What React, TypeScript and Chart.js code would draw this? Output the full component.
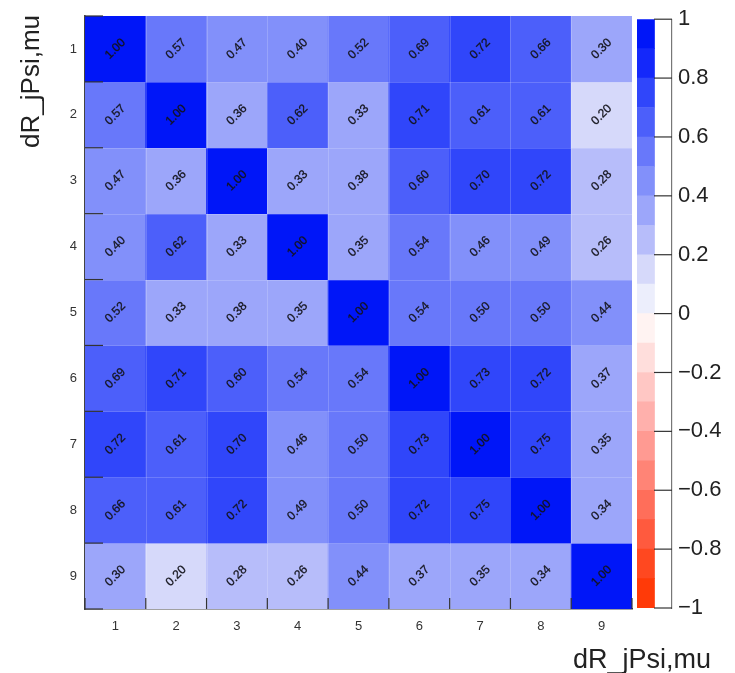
import { useEffect, useRef } from 'react';
import { Chart, registerables } from 'chart.js';

Chart.register(...registerables);

const FONT = '"Liberation Sans", Arial, Helvetica, sans-serif';

const AXIS_TITLE = 'dR_jPsi,mu';
const X_LABELS = ['1', '2', '3', '4', '5', '6', '7', '8', '9'];
const Y_LABELS = ['1', '2', '3', '4', '5', '6', '7', '8', '9'];

const ROW_1 = [1.0, 0.57, 0.47, 0.40, 0.52, 0.69, 0.72, 0.66, 0.30];
const ROW_2 = [0.57, 1.0, 0.36, 0.62, 0.33, 0.71, 0.61, 0.61, 0.199];
const ROW_3 = [0.47, 0.36, 1.0, 0.33, 0.38, 0.60, 0.70, 0.72, 0.28];
const ROW_4 = [0.40, 0.62, 0.33, 1.0, 0.35, 0.54, 0.46, 0.49, 0.26];
const ROW_5 = [0.52, 0.33, 0.38, 0.35, 1.0, 0.54, 0.50, 0.50, 0.44];
const ROW_6 = [0.69, 0.71, 0.60, 0.54, 0.54, 1.0, 0.73, 0.72, 0.37];
const ROW_7 = [0.72, 0.61, 0.70, 0.46, 0.50, 0.73, 1.0, 0.75, 0.35];
const ROW_8 = [0.66, 0.61, 0.72, 0.49, 0.50, 0.72, 0.75, 1.0, 0.34];
const ROW_9 = [0.30, 0.199, 0.28, 0.26, 0.44, 0.37, 0.35, 0.34, 1.0];
const MATRIX = [ROW_1, ROW_2, ROW_3, ROW_4, ROW_5, ROW_6, ROW_7, ROW_8, ROW_9];

const LEVEL_MIN = -1;
const LEVEL_MAX = 1;
const LEVEL_COUNT = 20;
const COLORBAR_TICKS = [-1, -0.8, -0.6, -0.4, -0.2, 0, 0.2, 0.4, 0.6, 0.8, 1];

// colour of each level, from -1 (index 0) to +1 (index 19)
const PALETTE = [
  'rgb(255,58,8)', 'rgb(255,72,32)', 'rgb(255,90,62)', 'rgb(255,110,90)', 'rgb(255,132,118)',
  'rgb(255,154,146)', 'rgb(255,176,172)', 'rgb(255,199,196)', 'rgb(255,222,220)', 'rgb(255,243,242)',
  'rgb(236,238,252)', 'rgb(214,217,250)', 'rgb(183,189,250)', 'rgb(156,166,250)', 'rgb(130,144,250)',
  'rgb(104,120,250)', 'rgb(76,95,250)', 'rgb(48,70,250)', 'rgb(20,40,250)', 'rgb(0,22,248)',
];

const levelWidth = (LEVEL_MAX - LEVEL_MIN) / LEVEL_COUNT;
function levelIndex(v: number): number {
  const k = Math.floor(Math.round(((v - LEVEL_MIN) / levelWidth) * 1e6) / 1e6);
  return Math.max(0, Math.min(LEVEL_COUNT - 1, k));
}
const colorFor = (v: number) => PALETTE[levelIndex(v)];

function fmtBar(v: number): string {
  const r = Math.round(v * 10) / 10;
  const s = Number.isInteger(r) ? String(Math.abs(r)) : Math.abs(r).toFixed(1);
  return r < 0 ? '\u2212' + s : s;
}

const matrixDecor = {
  id: 'matrixDecor',
  afterDatasetsDraw(chart: any) {
    const { ctx, chartArea: a, scales } = chart;
    const x = scales.x;
    const y = scales.y;
    const xb = (k: number) =>
      k <= 0 ? a.left : k >= X_LABELS.length ? a.right : (x.getPixelForValue(k - 1) + x.getPixelForValue(k)) / 2;
    ctx.save();
    ctx.strokeStyle = 'rgba(255,255,255,0.18)';
    ctx.lineWidth = 1;
    for (let k = 1; k < X_LABELS.length; k++) {
      const xx = Math.round(xb(k)) + 0.5;
      ctx.beginPath();
      ctx.moveTo(xx, a.top);
      ctx.lineTo(xx, a.bottom);
      ctx.stroke();
    }
    for (let k = 1; k < Y_LABELS.length; k++) {
      const yy = Math.round(y.getPixelForValue(k + 0.5)) + 0.5;
      ctx.beginPath();
      ctx.moveTo(a.left, yy);
      ctx.lineTo(a.right, yy);
      ctx.stroke();
    }
    ctx.fillStyle = '#14141c';
    ctx.strokeStyle = 'rgba(20,20,28,0.55)';
    ctx.lineWidth = 0.5;
    ctx.font = `12px ${FONT}`;
    ctx.textAlign = 'center';
    ctx.textBaseline = 'middle';
    MATRIX.forEach((row, i) => {
      row.forEach((v, j) => {
        const px = x.getPixelForValue(j);
        const py = y.getPixelForValue(i + 1);
        ctx.save();
        ctx.translate(px, py);
        ctx.rotate(-Math.PI / 4);
        ctx.fillText(v.toFixed(2), 0, 0);
        ctx.strokeText(v.toFixed(2), 0, 0);
        ctx.restore();
      });
    });
    ctx.restore();
  },
  afterDraw(chart: any) {
    const { ctx, chartArea: a, scales } = chart;
    const x = scales.x;
    const y = scales.y;
    const xb = (k: number) =>
      k <= 0 ? a.left : k >= X_LABELS.length ? a.right : (x.getPixelForValue(k - 1) + x.getPixelForValue(k)) / 2;
    ctx.save();
    ctx.strokeStyle = '#333';
    ctx.lineWidth = 1.2;
    for (let k = 0; k <= X_LABELS.length; k++) {
      const xx = xb(k);
      ctx.beginPath();
      ctx.moveTo(xx, a.bottom);
      ctx.lineTo(xx, a.bottom - 11);
      ctx.stroke();
    }
    for (let k = 0; k <= Y_LABELS.length; k++) {
      const yy = y.getPixelForValue(k + 0.5);
      ctx.beginPath();
      ctx.moveTo(a.left, yy);
      ctx.lineTo(a.left + 18, yy);
      ctx.stroke();
    }
    ctx.fillStyle = '#222';
    ctx.font = `27px ${FONT}`;
    ctx.textBaseline = 'alphabetic';
    ctx.textAlign = 'right';
    ctx.fillText(AXIS_TITLE, a.right + 79, a.bottom + 59);
    ctx.font = `26px ${FONT}`;
    ctx.save();
    ctx.translate(a.left - 46, a.top - 1);
    ctx.rotate(-Math.PI / 2);
    ctx.textAlign = 'right';
    ctx.fillText(AXIS_TITLE, 0, 0);
    ctx.restore();
    ctx.restore();
  },
};

const barTicks = {
  id: 'barTicks',
  afterDraw(chart: any) {
    const { ctx, chartArea: a, scales } = chart;
    const y = scales.y;
    ctx.save();
    ctx.strokeStyle = '#333';
    ctx.lineWidth = 1.2;
    COLORBAR_TICKS.forEach((t) => {
      const yy = y.getPixelForValue(t);
      ctx.beginPath();
      ctx.moveTo(a.right, yy);
      ctx.lineTo(a.right - 18, yy);
      ctx.stroke();
    });
    ctx.restore();
  },
};

export default function App() {
  const mainRef = useRef<HTMLCanvasElement>(null);
  const barRef = useRef<HTMLCanvasElement>(null);

  useEffect(() => {
    const main = new Chart(mainRef.current as HTMLCanvasElement, {
      type: 'bar',
      data: {
        labels: X_LABELS,
        datasets: MATRIX.map((row, i) => ({
          label: Y_LABELS[i],
          data: row.map(() => [i + 0.5, i + 1.5]),
          backgroundColor: row.map(colorFor),
          borderWidth: 0,
          barPercentage: 1,
          categoryPercentage: 1,
        })),
      } as any,
      options: {
        animation: false,
        responsive: false,
        layout: { padding: { left: 0, top: 16, right: 103, bottom: 0 } },
        plugins: { legend: { display: false }, tooltip: { enabled: false } },
        scales: {
          x: {
            type: 'category',
            stacked: true,
            grid: { display: false, drawTicks: false },
            border: { display: true, color: '#444', width: 1.5 },
            ticks: { color: '#333', font: { family: FONT, size: 13 }, padding: 10, maxRotation: 0 },
            afterFit: (s: any) => { s.height = 64; },
          },
          y: {
            type: 'linear',
            reverse: true,
            min: 0.5,
            max: 9.5,
            stacked: false,
            grid: { display: false, drawTicks: false },
            border: { display: true, color: '#444', width: 1.5 },
            afterBuildTicks: (s: any) => { s.ticks = Y_LABELS.map((_, i) => ({ value: i + 1 })); },
            ticks: {
              color: '#333',
              font: { family: FONT, size: 13 },
              padding: 8,
              callback: (v: any) => Y_LABELS[Math.round(Number(v)) - 1] ?? '',
            },
            afterFit: (s: any) => { s.width = 85; },
          },
        },
      } as any,
      plugins: [matrixDecor],
    });

    const bar = new Chart(barRef.current as HTMLCanvasElement, {
      type: 'bar',
      data: {
        labels: [''],
        datasets: PALETTE.map((c, k) => ({
          label: String(k),
          data: [[LEVEL_MIN + k * levelWidth, LEVEL_MIN + (k + 1) * levelWidth]],
          backgroundColor: c,
          borderWidth: 0,
          barPercentage: 1,
          categoryPercentage: 1,
        })),
      } as any,
      options: {
        animation: false,
        responsive: false,
        layout: { padding: { left: 637, top: 16, right: 0, bottom: 65 } },
        plugins: { legend: { display: false }, tooltip: { enabled: false } },
        scales: {
          x: { type: 'category', stacked: true, display: false, offset: false },
          y: {
            type: 'linear',
            position: 'right',
            min: LEVEL_MIN,
            max: LEVEL_MAX,
            stacked: false,
            grid: { display: false, drawTicks: false },
            border: { display: true, color: '#777', width: 1.2 },
            afterBuildTicks: (s: any) => { s.ticks = COLORBAR_TICKS.map((v) => ({ value: v })); },
            ticks: {
              color: '#222',
              font: { family: FONT, size: 22 },
              padding: 6,
              callback: (v: any) => fmtBar(Number(v)),
            },
            afterFit: (s: any) => { s.width = 63; },
          },
        },
      } as any,
      plugins: [barTicks],
    });

    return () => {
      main.destroy();
      bar.destroy();
    };
  }, []);

  return (
    <div style={{ position: 'fixed', left: 0, top: 0, width: 735, height: 673, background: '#fff' }}>
      <canvas ref={mainRef} width={735} height={673} style={{ position: 'absolute', left: 0, top: 0 }} />
      <canvas ref={barRef} width={735} height={673} style={{ position: 'absolute', left: 0, top: 0, pointerEvents: 'none' }} />
    </div>
  );
}
